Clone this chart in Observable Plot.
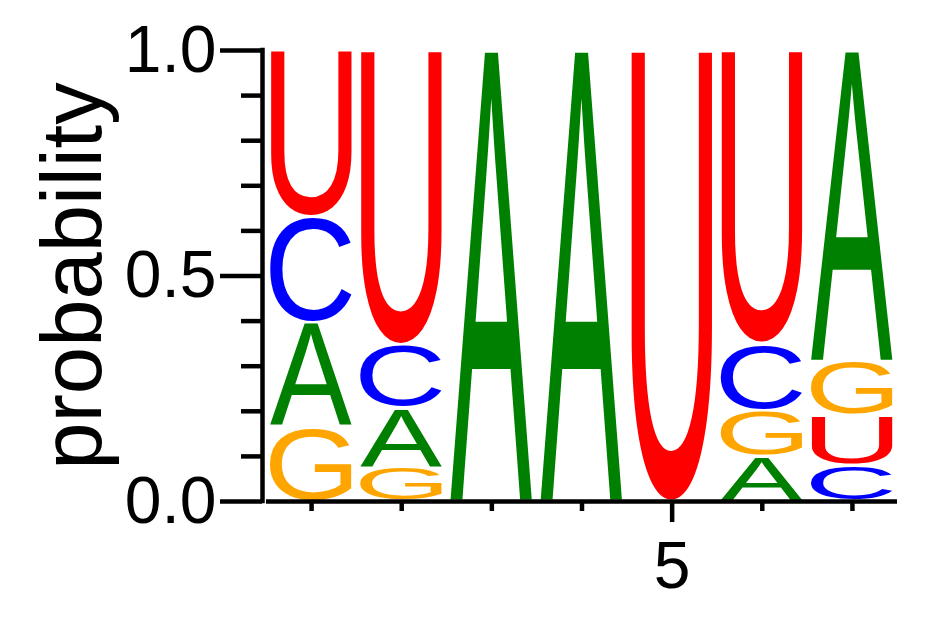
<!DOCTYPE html>
<html><head><meta charset="utf-8">
<script src="https://cdn.jsdelivr.net/npm/d3@7"></script>
<script src="https://cdn.jsdelivr.net/npm/@observablehq/plot@0.6"></script>
<style>body{margin:0;background:#fff;}</style>
</head><body><div id="chart"></div>
<script>
// ---- data ----
const positions = [1, 2, 3, 4, 5, 6, 7];
const nucleotides = ["A", "C", "G", "U"];
const probA = [0.230, 0.132, 1.000, 1.000, 0.000, 0.100, 0.690];
const probC = [0.235, 0.140, 0.000, 0.000, 0.000, 0.148, 0.080];
const probG = [0.165, 0.075, 0.000, 0.000, 0.000, 0.102, 0.120];
const probU = [0.370, 0.653, 0.000, 0.000, 1.000, 0.650, 0.110];
const nucleotideColors = ["#008000", "#0000ff", "#ffa500", "#ff0000"];
const yMajorTicks = [0, 0.5, 1];
const yMinorTicks = [0.1, 0.2, 0.3, 0.4, 0.6, 0.7, 0.8, 0.9];
const xLabeledTicks = [5];
const xMinorTicks = [1, 2, 3, 4, 6, 7];
const yLabel = "probability";

// ---- table ----
const probs = {A: probA, C: probC, G: probG, U: probU};
const rows = [];
positions.forEach((pos, i) => {
  for (const L of nucleotides) {
    const p = probs[L][i];
    if (p > 0) rows.push({pos, letter: L, p});
  }
});

// ---- glyph metrics (tight ink bounds) ----
const FONT = "'Liberation Sans', Arial, Helvetica, sans-serif";
const ctx = document.createElement("canvas").getContext("2d");
ctx.font = `100px ${FONT}`;
ctx.textAlign = "left";
ctx.textBaseline = "alphabetic";
const metrics = {};
for (const L of nucleotides) {
  const m = ctx.measureText(L);
  metrics[L] = {
    left: m.actualBoundingBoxLeft, right: m.actualBoundingBoxRight,
    ascent: m.actualBoundingBoxAscent, descent: m.actualBoundingBoxDescent
  };
}

function logoRender(index, scales, values) {
  const {x1: X1, x2: X2, y1: Y1, y2: Y2, fill: F} = values;
  const g = d3.create("svg:g");
  for (const i of index) {
    const L = rows[i].letter;
    const m = metrics[L];
    const left = Math.min(X1[i], X2[i]), right = Math.max(X1[i], X2[i]);
    const top = Math.min(Y1[i], Y2[i]) + 1.5, bottom = Math.max(Y1[i], Y2[i]) - 1.5;
    const w = right - left, h = bottom - top;
    if (h <= 0) continue;
    const gw = m.left + m.right, gh = m.ascent + m.descent;
    g.append("text")
      .attr("x", m.left).attr("y", m.ascent)
      .attr("text-anchor", "start")
      .attr("font-size", 100).attr("font-family", FONT)
      .attr("fill", F[i])
      .attr("transform", `translate(${left},${top}) scale(${w / gw},${h / gh})`)
      .text(L);
  }
  return g.node();
}

const chart = Plot.plot({
  width: 942,
  height: 617,
  marginLeft: 266,
  marginRight: 45,
  marginTop: 50,
  marginBottom: 116,
  style: {fontFamily: FONT, background: "white", color: "black"},
  x: {domain: [0.5, 7.5], axis: null},
  y: {domain: [0, 1], axis: null},
  color: {domain: nucleotides, range: nucleotideColors},
  marks: [
    Plot.rect(rows, Plot.stackY({
      x: "pos", y: "p", order: "value",
      x1: d => d.pos - 0.455, x2: d => d.pos + 0.455,
      fill: "letter", render: logoRender
    })),
    Plot.ruleY([0], {strokeWidth: 4.5}),
    Plot.ruleX([0.5], {dx: -4, strokeWidth: 4.5, strokeLinecap: "square"}),
    Plot.axisY(yMajorTicks, {tickSize: 42, tickPadding: 4, dx: -4, fontSize: 66,
      strokeWidth: 4.5, tickFormat: d3.format(".1f"), label: null}),
    Plot.axisY(yMinorTicks, {tickSize: 21, dx: -4, strokeWidth: 4.5,
      tickFormat: () => "", label: null}),
    Plot.axisX(xLabeledTicks, {tickSize: 21, tickPadding: 19, fontSize: 66,
      strokeWidth: 4.5, tickFormat: d => String(d), label: null}),
    Plot.axisX(xMinorTicks, {tickSize: 10, strokeWidth: 4.5,
      tickFormat: () => "", label: null}),
    Plot.text([yLabel], {frameAnchor: "left", rotate: -90, dx: -193,
      fontSize: 85, textAnchor: "middle", lineAnchor: "middle", text: d => d})
  ]
});
document.getElementById("chart").appendChild(chart);
</script>
</body></html>
